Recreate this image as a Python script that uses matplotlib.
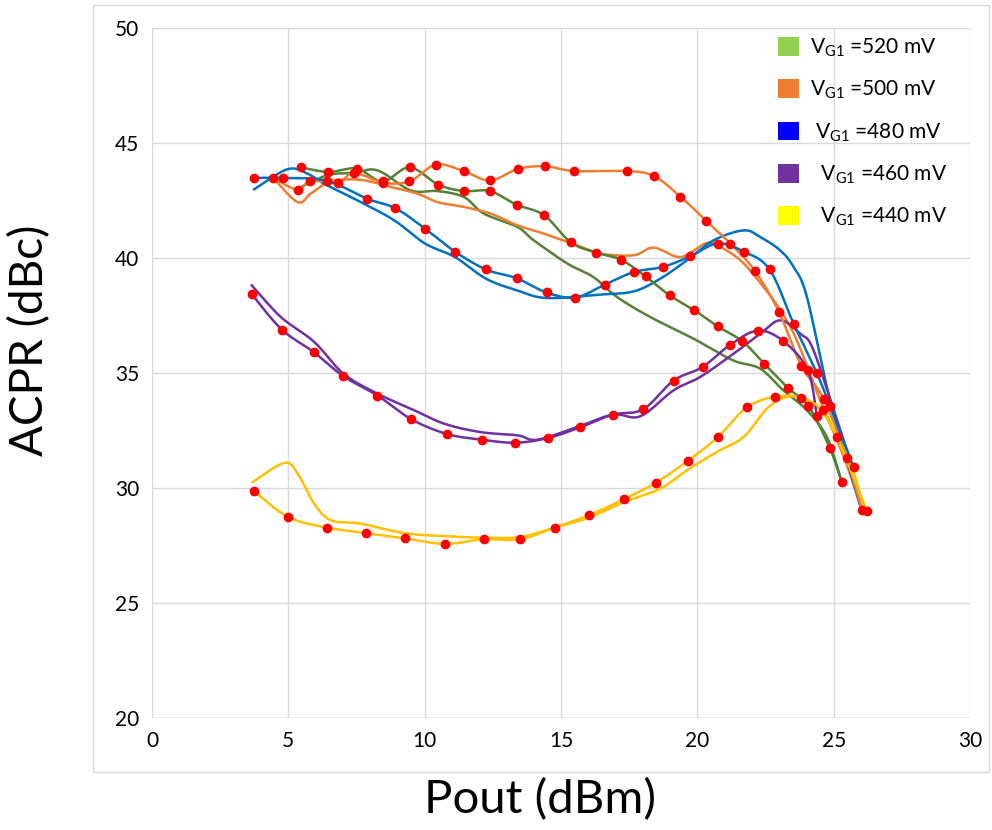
import numpy as np
import matplotlib
matplotlib.use("Agg")
import matplotlib.pyplot as plt
from matplotlib.patches import Patch, Rectangle

plt.rcParams['font.family'] = ['Lato', 'DejaVu Sans']

# --- measured curves (with red markers) ---
x520 = [5.47, 6.47, 7.50, 8.46, 9.45, 10.50, 11.43, 12.39, 13.37, 14.38, 15.36, 16.30,
        17.19, 18.10, 18.99, 19.89, 20.74, 21.65, 22.45, 23.32, 24.07, 24.85, 25.30]
y520 = [43.94, 43.74, 43.89, 43.33, 43.94, 43.19, 42.91, 42.91, 42.32, 41.86, 40.68, 40.23,
        39.93, 39.20, 38.37, 37.73, 37.03, 36.38, 35.41, 34.35, 33.57, 31.76, 30.24]

x500 = [4.44, 5.35, 5.80, 6.82, 7.41, 8.47, 9.44, 10.41, 11.43, 12.39, 13.42, 14.43, 15.48,
        17.42, 18.41, 19.38, 20.32, 21.21, 22.12, 23.00, 23.81, 24.63, 25.48, 26.03]
y500 = [43.48, 42.96, 43.35, 43.28, 43.70, 43.28, 43.33, 44.06, 43.78, 43.37, 43.87, 43.99, 43.78,
        43.78, 43.56, 42.67, 41.62, 40.63, 39.43, 37.64, 35.32, 33.88, 31.30, 29.06]

x480 = [3.75, 4.81, 6.40, 7.88, 8.93, 10.01, 11.11, 12.25, 13.37, 14.47, 15.53, 16.60, 17.67,
        18.73, 19.74, 20.74, 21.70, 22.65, 23.53, 24.38, 24.87, 25.73]
y480 = [43.48, 43.48, 43.36, 42.58, 42.16, 41.28, 40.28, 39.50, 39.12, 38.50, 38.28, 38.84, 39.39,
        39.61, 40.07, 40.63, 40.28, 39.50, 37.15, 35.00, 33.55, 30.91]

x460 = [3.66, 4.76, 5.93, 7.02, 8.27, 9.51, 10.81, 12.09, 13.33, 14.51, 15.71, 16.90, 18.01,
        19.13, 20.19, 21.21, 22.22, 23.16, 24.05, 24.38]
y460 = [38.42, 36.89, 35.91, 34.86, 34.02, 32.99, 32.35, 32.10, 31.97, 32.17, 32.64, 33.19, 33.42,
        34.67, 35.26, 36.23, 36.84, 36.38, 35.12, 33.15]

x440 = [3.75, 4.99, 6.40, 7.84, 9.28, 10.73, 12.17, 13.49, 14.77, 16.02, 17.32, 18.47, 19.66,
        20.74, 21.82, 22.86, 23.80, 24.60, 25.12, 26.22]
y440 = [29.86, 28.74, 28.28, 28.04, 27.81, 27.57, 27.77, 27.77, 28.28, 28.81, 29.52, 30.22, 31.19,
        32.20, 33.51, 33.97, 33.93, 33.37, 32.22, 28.99]

# --- second curves (no markers) ---
x520b = [5.35, 6.44, 7.41, 8.27, 9.49, 10.47, 11.44, 12.17, 13.40, 14.00, 15.23, 16.19, 17.06,
         18.28, 19.85, 21.31, 22.30, 23.15, 24.02, 24.75, 25.24]
y520b = [43.02, 43.60, 43.70, 43.81, 42.94, 42.91, 42.65, 41.93, 41.35, 40.77, 39.76, 39.17, 38.30,
         37.43, 36.50, 35.55, 35.19, 34.25, 33.38, 32.22, 30.48]

x500b = [4.44, 5.34, 5.82, 6.44, 6.92, 7.77, 8.75, 9.73, 10.47, 11.44, 12.42, 13.40, 14.37, 15.59,
         16.45, 17.66, 18.40, 19.38, 20.29, 20.72, 21.58, 22.43, 23.04, 23.65, 24.51, 25.42, 25.97]
y500b = [43.48, 42.43, 42.80, 43.30, 43.41, 43.38, 43.09, 42.80, 42.43, 42.22, 41.93, 41.42, 41.06,
         40.55, 40.19, 40.12, 40.45, 40.04, 40.63, 40.55, 39.90, 38.74, 37.73, 36.42, 33.80, 31.20, 29.25]

x480b = [3.75, 4.97, 5.70, 6.31, 7.53, 8.88, 10.01, 11.11, 12.25, 13.37, 14.47, 16.45, 17.67,
         18.64, 19.62, 20.60, 21.70, 22.31, 23.04, 23.53, 24.02, 24.87, 25.97]
y480b = [42.99, 43.86, 43.67, 43.23, 42.51, 41.64, 40.63, 40.04, 39.10, 38.60, 38.26, 38.41, 38.55,
         39.10, 39.90, 40.77, 41.20, 40.91, 40.33, 39.61, 38.30, 33.81, 29.25]

x460b = [3.66, 4.73, 5.95, 7.02, 8.27, 9.49, 10.71, 12.05, 13.40, 14.13, 15.59, 16.90, 17.91,
         19.13, 20.11, 21.33, 22.31, 23.04, 23.77, 24.26, 25.24, 25.70]
y460b = [38.81, 37.43, 36.35, 34.97, 34.10, 33.45, 32.80, 32.43, 32.29, 32.10, 32.65, 33.19, 33.12,
         34.25, 34.83, 35.84, 36.71, 37.29, 36.71, 35.99, 32.51, 30.90]

x440b = [3.69, 4.85, 5.34, 5.95, 6.56, 7.66, 9.24, 10.71, 12.17, 13.52, 14.77, 16.02, 17.32, 18.64,
         19.62, 20.72, 21.70, 22.55, 23.28, 24.02, 24.63, 25.12, 25.60, 26.12]
y440b = [30.26, 31.09, 30.63, 29.32, 28.60, 28.45, 28.04, 27.91, 27.84, 27.87, 28.28, 28.71, 29.39,
         29.97, 30.77, 31.57, 32.22, 33.45, 33.96, 33.84, 33.23, 32.22, 31.20, 29.06]

labels = ["V$_{\\mathregular{G1}}$ =520 mV", "V$_{\\mathregular{G1}}$ =500 mV",
          " V$_{\\mathregular{G1}}$ =480 mV", "  V$_{\\mathregular{G1}}$ =460 mV",
          "  V$_{\\mathregular{G1}}$ =440 mV"]
line_colors = ["#548235", "#ed7d31", "#0070c0", "#7030a0", "#ffc000"]
legend_colors = ["#92d050", "#ed7d31", "#0000ff", "#7030a0", "#ffff00"]


def smooth(xs, ys, n=24):
    # Catmull-Rom spline, like Excel's smoothed line
    p = np.column_stack([xs, ys]).astype(float)
    p = np.vstack([p[0], p, p[-1]])
    t = np.linspace(0, 1, n, endpoint=False)[:, None]
    segs = []
    for i in range(1, len(p) - 2):
        p0, p1, p2, p3 = p[i - 1], p[i], p[i + 1], p[i + 2]
        segs.append(0.5 * (2 * p1 + (p2 - p0) * t + (2 * p0 - 5 * p1 + 4 * p2 - p3) * t ** 2
                           + (-p0 + 3 * p1 - 3 * p2 + p3) * t ** 3))
    segs.append(p[-2][None])
    c = np.vstack(segs)
    return c[:, 0], c[:, 1]


fig = plt.figure(figsize=(9.92, 8.3), dpi=100)
ax = fig.add_axes([152 / 992, 112 / 830, 818 / 992, 690 / 830])

# chart area border
fig.add_artist(Rectangle((93 / 992, 58 / 830), 896 / 992, 767 / 830, transform=fig.transFigure,
                         fill=False, edgecolor="#d9d9d9", linewidth=1))

measured = [(x520, y520), (x500, y500), (x480, y480), (x460, y460), (x440, y440)]
second = [(x520b, y520b), (x500b, y500b), (x480b, y480b), (x460b, y460b), (x440b, y440b)]

for (xs, ys), col in zip(second, line_colors):
    sx, sy = smooth(xs, ys)
    ax.plot(sx, sy, color=col, lw=1.8, zorder=2)

for (xs, ys), col in zip(measured, line_colors):
    sx, sy = smooth(xs, ys)
    ax.plot(sx, sy, color=col, lw=1.8, zorder=3)

for xs, ys in measured:
    ax.plot(xs, ys, 'o', color="#ff0000", ms=6, mec="#ff0000", zorder=4)

ax.set_xlim(0, 30)
ax.set_ylim(20, 50)
ax.set_xticks(range(0, 31, 5))
ax.set_yticks(range(20, 51, 5))
ax.grid(True, color="#d9d9d9", lw=1)
ax.set_axisbelow(True)
for s in ax.spines.values():
    s.set_visible(False)
ax.axhline(20, color="#bfbfbf", lw=1, zorder=1)
ax.tick_params(length=0, labelsize=15, pad=9)

fig.text(30 / 992, 1 - 340 / 830, "ACPR (dBc)", rotation=90, fontsize=33, ha="center", va="center")
fig.text(540 / 992, 1 - 800 / 830, "Pout (dBm)", fontsize=34, ha="center", va="center")

handles = [Patch(facecolor=c, edgecolor="none") for c in legend_colors]
ax.legend(handles, labels, loc="upper left", bbox_to_anchor=(0.755, 1.0), borderaxespad=0,
          frameon=False, fontsize=15, handlelength=1.0, handleheight=1.0, labelspacing=0.95,
          handletextpad=0.55)

fig.savefig("out.png", dpi=100)
